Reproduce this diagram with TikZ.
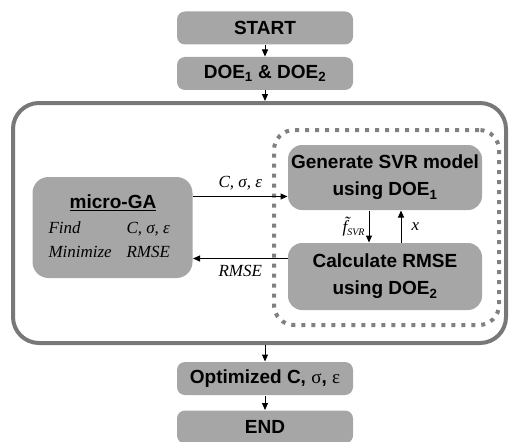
\documentclass[tikz,border=0pt]{standalone}
\usepackage{fontspec}
\setmainfont{Liberation Sans}
\newfontfamily\timesfont{Liberation Serif}
\usetikzlibrary{arrows.meta,positioning}

\definecolor{boxgray}{RGB}{166,166,166}
\definecolor{framegray}{RGB}{120,120,120}
\definecolor{dotgray}{RGB}{128,128,128}

\tikzset{
  stepbox/.style={fill=boxgray, rounded corners=8pt, minimum width=176pt, minimum height=33pt,
    inner sep=0pt, align=center, font=\fontsize{19}{27}\selectfont\bfseries},
  loopframe/.style={draw=framegray, line width=4pt, rounded corners=26pt, inner sep=0pt},
  svrframe/.style={draw=dotgray, line width=4pt, dash pattern=on 4pt off 6pt, rounded corners=20pt, inner sep=0pt},
  itlabel/.style={inner sep=0pt, font=\timesfont\itshape\fontsize{17}{19}\selectfont},
  gatext/.style={inner sep=0pt, font=\fontsize{19}{21}\selectfont\bfseries},
}

\begin{document}
\begin{tikzpicture}[x=1pt, y=-1pt, >={Triangle[length=7pt,width=6pt]}, line width=1pt]
\useasboundingbox (0,0) rectangle (510,441);

% main chain
\node[stepbox] (start) at (265,28) {START};
\node[stepbox] (doe) at (265,73.5) {DOE\textsubscript{1} \& DOE\textsubscript{2}};
\node[loopframe, minimum width=493pt, minimum height=240pt] (loop) at (259.5,223) {};
\node[stepbox] (optimized) at (265,378.5) {Optimized C, {\timesfont\mdseries σ}, {\timesfont\mdseries ε}};
\node[stepbox] (finish) at (265,427) {END};

% inner loop
\node[svrframe, minimum width=225pt, minimum height=195pt] (svr) at (386.5,227.5) {};
\node[stepbox, minimum width=194pt, minimum height=65pt, rounded corners=14pt] (generate) at (385,177.5) {Generate SVR model\\using DOE\textsubscript{1}};
\node[stepbox, minimum width=194pt, minimum height=67pt, rounded corners=14pt] (calculate) at (385,276.5) {Calculate RMSE\\using DOE\textsubscript{2}};

% optimizer
\node[stepbox, minimum width=160pt, minimum height=101pt, rounded corners=16pt] (ga) at (112.5,227.5) {};
\node[gatext] (ga_title) at (113,203) {\underline{micro-GA}};
\node[itlabel, anchor=base west] (find) at (48,233) {Find};
\node[itlabel, anchor=base west] (find_vars) at (126,233) {C, σ, ε};
\node[itlabel, anchor=base west] (minimize) at (48,257) {Minimize};
\node[itlabel, anchor=base west] (min_rmse) at (126,257) {RMSE};

\draw[->] (start) -- (doe);
\draw[->] (doe) -- (doe |- loop.north);
\draw[->] (loop.south -| optimized) -- (optimized);
\draw[->] (optimized) -- (finish);

\draw[->] ([yshift=31pt]ga.east) -- node[itlabel, above=6pt] (params) {C, σ, ε} ([yshift=31pt]ga.east -| generate.west);
\draw[->] ([yshift=-31pt]ga.east -| calculate.west) -- node[itlabel, below=6pt] (rmse) {RMSE} ([yshift=-31pt]ga.east);
\draw[->] ([xshift=-16pt]generate.south) -- node[itlabel, left=4pt] (fsvr) {\~{f}\raisebox{-3pt}{\fontsize{10}{10}\selectfont SVR}} ([xshift=-16pt]calculate.north);
\draw[->] ([xshift=16pt]calculate.north) -- node[itlabel, right=10pt] (xin) {x} ([xshift=16pt]generate.south);
\end{tikzpicture}
\end{document}
